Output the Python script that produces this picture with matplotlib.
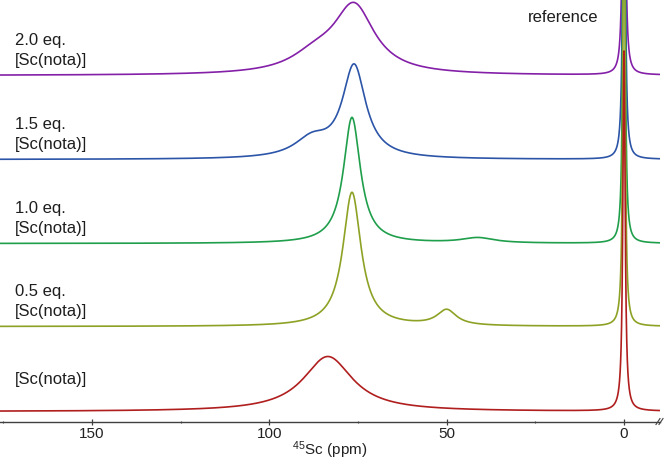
import numpy as np
import matplotlib
matplotlib.use('Agg')
import matplotlib.pyplot as plt

plt.rcParams['font.family'] = ['Liberation Sans', 'DejaVu Sans']

# ---- data (peak positions in ppm, heights in plot units
#      above each trace's baseline, half-widths at half maximum in ppm) ----
trace_labels_top = ['', '0.5 eq.', '1.0 eq.', '1.5 eq.', '2.0 eq.']
trace_label_bottom = '[Sc(nota)]'
baselines = [10, 95, 178, 262, 346]
colors = ['#b01e1e', '#8da225', '#1f9e4b', '#2c55a8', '#8420a8']

red_centers = [83.5, 0.0]
red_heights = [55, 360]
red_widths = [8.5, 0.38]

yg_centers = [76.7, 50.0, 0.0]
yg_heights = [134, 15.5, 700]
yg_widths = [3.1, 3.3, 0.27]

green_centers = [76.7, 41.2, 0.0]
green_heights = [126, 5.2, 700]
green_widths = [2.9, 5.6, 0.27]

blue_centers = [76.1, 88.0, 0.0]
blue_heights = [92, 18, 700]
blue_widths = [4.0, 6.0, 0.27]

purple_centers = [76.1, 87.0, 0.0]
purple_heights = [67, 16, 700]
purple_widths = [7.0, 8.5, 0.27]

major_ticks = [150, 100, 50, 0]
minor_ticks = [175, 125, 75, 25]

peak_tables = [
    (red_centers, red_heights, red_widths),
    (yg_centers, yg_heights, yg_widths),
    (green_centers, green_heights, green_widths),
    (blue_centers, blue_heights, blue_widths),
    (purple_centers, purple_heights, purple_widths),
]


def lorentz_sum(x, centers, heights, widths):
    y = np.zeros_like(x)
    for c, h, w in zip(centers, heights, widths):
        y += h / (1.0 + ((x - c) / w) ** 2)
    return y


ppm = np.linspace(177, -11, 8000)

fig = plt.figure(figsize=(6.65, 4.62), dpi=100)
bottom = (462 - 421.5) / 462
ax = fig.add_axes([0, bottom, 660 / 665, 1 - bottom])

for i in reversed(range(5)):
    c, h, w = peak_tables[i]
    ax.plot(ppm, baselines[i] + lorentz_sum(ppm, c, h, w), color=colors[i], lw=1.2)

ax.set_xlim(175.94, -10.15)
ax.set_ylim(0, 421.5)

txt_color = '#1e1e1e'
label_x = 171.7
for i in range(5):
    if trace_labels_top[i]:
        ax.text(label_x, baselines[i] + 30.7, trace_labels_top[i], fontsize=12,
                color=txt_color, va='baseline', ha='left')
        ax.text(label_x, baselines[i] + 10.7, trace_label_bottom, fontsize=12,
                color=txt_color, va='baseline', ha='left')
    else:
        ax.text(label_x, baselines[i] + 27.5, trace_label_bottom, fontsize=12,
                color=txt_color, va='baseline', ha='left')

ax.text(7.3, 399.8, 'reference', fontsize=12, color=txt_color, va='baseline', ha='right')

for s in ['left', 'right', 'top']:
    ax.spines[s].set_visible(False)
ax.spines['bottom'].set_color('#404040')
ax.spines['bottom'].set_linewidth(1.0)
ax.set_yticks([])
ax.set_xticks(major_ticks)
ax.set_xticks(minor_ticks, minor=True)
ax.tick_params(axis='x', which='major', direction='inout', length=4, width=0.9,
               color='#404040', labelsize=11, labelcolor='#222222', pad=2)
ax.tick_params(axis='x', which='minor', direction='inout', length=2, width=0.8,
               color='#404040')
ax.set_xlabel('$\\mathregular{^{45}}$Sc (ppm)', fontsize=11, color='#222222', labelpad=-1.5)

# axis break marks
for d in (0, 3):
    ax.plot([(656 + d) / 660, (660 + d) / 660], [-3 / 421.5, 3 / 421.5],
            transform=ax.transAxes, clip_on=False, color='#404040', lw=0.8)

fig.savefig('out.png', dpi=100)
